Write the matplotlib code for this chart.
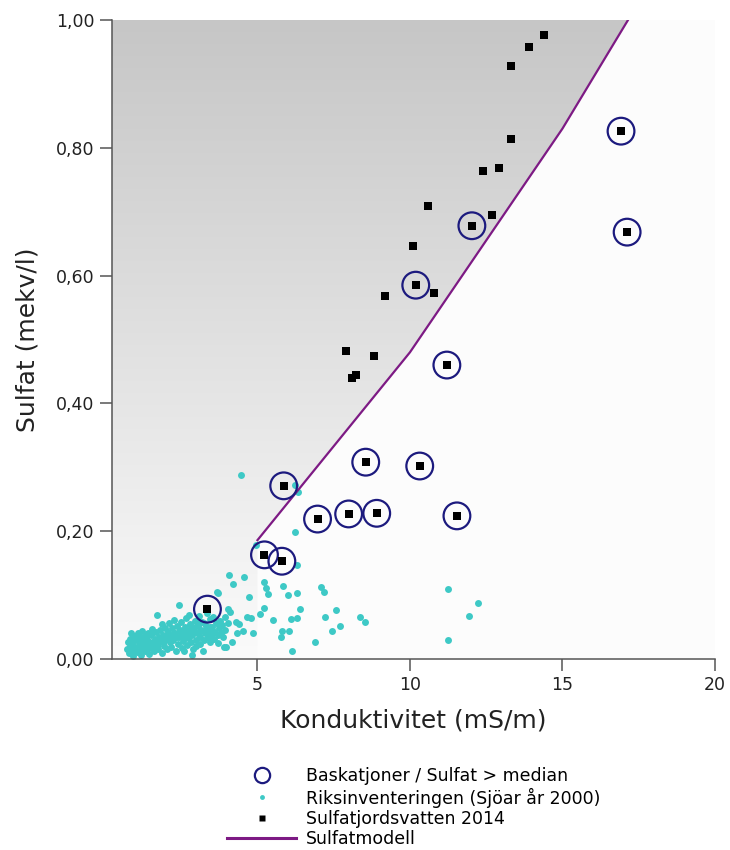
# -*- coding: utf-8 -*-
# Sulfat mot konduktivitet: sjöar, markvatten och sulfatmodell

import numpy as np
import matplotlib
matplotlib.use("Agg")
import matplotlib.pyplot as plt
from matplotlib.colors import LinearSegmentedColormap
from matplotlib.lines import Line2D
from matplotlib.patches import Polygon
from matplotlib.ticker import FuncFormatter


# =========================
# Data
# =========================
# Sulfatmodell (brytpunkter)
model_x = [5.0, 10.0, 15.0, 17.15]
model_y = [0.186, 0.48, 0.83, 1.0]

# Sulfatjordsvatten 2014
sulfat_x = [3.36, 5.23, 5.80, 5.86, 6.97, 7.99, 8.91, 8.55, 10.32, 11.54,
            11.21, 10.19, 12.03, 16.92, 17.12,
            7.89, 8.81, 8.10, 8.22, 9.18, 10.78, 10.09, 10.58, 12.68, 12.39,
            12.91, 13.31, 13.31, 13.90, 14.39]
sulfat_y = [0.078, 0.163, 0.153, 0.271, 0.219, 0.227, 0.228, 0.308, 0.302, 0.224,
            0.460, 0.585, 0.678, 0.826, 0.668,
            0.482, 0.474, 0.440, 0.444, 0.568, 0.573, 0.646, 0.709, 0.695, 0.764,
            0.768, 0.814, 0.928, 0.958, 0.977]
# Baskatjoner / Sulfat > median (ringas in)
over_median = [True] * 15 + [False] * 15

# Riksinventeringen (Sjöar år 2000)
riks_x = [0.72, 0.74, 0.78, 0.81, 0.83, 0.88, 0.90, 0.93, 0.97, 0.99,
          1.02, 1.06, 1.08, 1.11, 1.14, 1.17, 1.19, 1.23, 1.26, 1.28,
          1.31, 1.34, 1.37, 1.40, 1.43, 1.46, 1.48, 1.52, 1.55, 1.57,
          1.60, 1.63, 1.66, 1.69, 1.72, 1.74, 1.77, 1.80, 1.83, 1.86,
          1.88, 1.91, 1.94, 1.97, 2.00, 2.03, 2.06, 2.09, 2.12, 2.15,
          2.18, 2.21, 2.24, 2.27, 2.30, 2.33, 2.36, 2.39, 2.42, 2.44,
          2.47, 2.50, 2.53, 2.56, 2.59, 2.62, 2.65, 2.68, 2.71, 2.74,
          2.77, 2.80, 2.83, 2.86, 2.89, 2.92, 2.95, 2.98, 3.01, 3.04,
          3.07, 3.10, 3.13, 3.16, 3.19, 3.22, 3.25, 3.28, 3.31, 3.34,
          3.37, 3.40, 3.43, 3.46, 3.49, 3.52, 3.55, 3.58, 3.61, 3.64,
          3.67, 3.70, 3.73, 3.76, 3.80, 3.84, 3.88, 3.93, 3.97, 4.02,
          1.25, 1.45, 1.65, 1.85, 2.05, 2.25, 2.45, 2.65, 2.85, 3.05, 3.25, 3.45,
          1.35, 1.55, 1.75, 1.95, 2.15, 2.35, 2.55, 2.75, 2.95, 3.15, 3.35, 3.55,
          1.10, 1.00, 0.86, 2.60, 3.00, 3.70, 2.84,
          4.46, 6.24, 6.32, 6.22, 4.96, 6.30, 4.07, 4.21, 4.57, 5.23,
          5.29, 5.36, 5.84, 5.99, 6.30, 7.08, 7.19, 3.69, 4.72, 4.05,
          4.11, 3.94, 5.23, 5.07, 4.65, 4.79, 4.30, 4.38, 5.51, 6.40,
          6.11, 6.30, 7.22, 7.59, 8.35, 8.51, 7.72, 7.46, 4.32, 4.52,
          4.84, 5.80, 6.05, 5.78, 6.90, 6.13, 3.91, 4.16,
          11.24, 12.24, 11.93, 11.24]
riks_y = [0.016, 0.027, 0.009, 0.021, 0.032, 0.014, 0.025, 0.005, 0.036, 0.019,
          0.029, 0.011, 0.040, 0.022, 0.031, 0.007, 0.016, 0.044, 0.026, 0.035,
          0.012, 0.021, 0.030, 0.041, 0.017, 0.008, 0.027, 0.037, 0.047, 0.020,
          0.013, 0.031, 0.042, 0.024, 0.069, 0.016, 0.035, 0.046, 0.028, 0.054,
          0.010, 0.038, 0.021, 0.049, 0.031, 0.015, 0.043, 0.057, 0.026, 0.036,
          0.019, 0.048, 0.030, 0.061, 0.040, 0.012, 0.052, 0.024, 0.085, 0.034,
          0.045, 0.058, 0.018, 0.028, 0.039, 0.050, 0.064, 0.022, 0.033, 0.069,
          0.044, 0.055, 0.027, 0.037, 0.016, 0.048, 0.060, 0.030, 0.041, 0.052,
          0.067, 0.024, 0.035, 0.046, 0.058, 0.013, 0.029, 0.040, 0.051, 0.072,
          0.034, 0.045, 0.062, 0.026, 0.038, 0.050, 0.066, 0.031, 0.043, 0.056,
          0.105, 0.037, 0.048, 0.060, 0.041, 0.053, 0.035, 0.046, 0.019, 0.057,
          0.018, 0.024, 0.028, 0.033, 0.036, 0.040, 0.044, 0.046, 0.050, 0.054, 0.056, 0.050,
          0.038, 0.041, 0.023, 0.028, 0.031, 0.035, 0.036, 0.040, 0.042, 0.044, 0.047, 0.040,
          0.036, 0.012, 0.040, 0.012, 0.020, 0.025, 0.006,
          0.288, 0.272, 0.262, 0.198, 0.178, 0.147, 0.131, 0.117, 0.128, 0.121,
          0.111, 0.102, 0.114, 0.100, 0.104, 0.113, 0.105, 0.104, 0.097, 0.078,
          0.073, 0.065, 0.080, 0.071, 0.066, 0.064, 0.058, 0.055, 0.061, 0.078,
          0.062, 0.064, 0.066, 0.077, 0.066, 0.058, 0.052, 0.044, 0.041, 0.044,
          0.040, 0.044, 0.044, 0.035, 0.026, 0.013, 0.019, 0.027,
          0.109, 0.087, 0.068, 0.030]

x_ticks = [5, 10, 15, 20]
y_ticks = [0.0, 0.2, 0.4, 0.6, 0.8, 1.0]

X_MIN, X_MAX = 0.23, 20.0
Y_MIN, Y_MAX = 0.0, 1.0

TURQ = "#3ec9c6"
NAVY = "#1c1a7e"
PURPLE = "#7d1a84"
AXIS_GREY = "#555555"


# =========================
# Figur
# =========================
fig = plt.figure(figsize=(7.3, 8.5), dpi=100)
ax = fig.add_axes([0.1534, 0.2247, 0.826, 0.7518])
ax.set_facecolor("#fcfcfc")

# Grå gradient ovanför modellinjen
poly_pts = [(X_MIN, Y_MIN), (X_MIN, Y_MAX)] + \
           list(zip(model_x[::-1], model_y[::-1])) + [(model_x[0], Y_MIN)]
clip = Polygon(poly_pts, closed=True, transform=ax.transData,
               facecolor="none", edgecolor="none")
ax.add_patch(clip)
grad = np.linspace(0, 1, 256).reshape(-1, 1)
cmap = LinearSegmentedColormap.from_list("grey_fade", ["#fbfbfb", "#c6c6c6"])
img = ax.imshow(grad, extent=[X_MIN, X_MAX, Y_MIN, Y_MAX], origin="lower",
                aspect="auto", cmap=cmap, interpolation="bicubic", zorder=0)
img.set_clip_path(clip)

# Punkter och linje
ax.scatter(riks_x, riks_y, s=25, color=TURQ, linewidths=0, zorder=2)
ax.plot(model_x, model_y, color=PURPLE, lw=1.6, zorder=3)

circ_x = [x for x, m in zip(sulfat_x, over_median) if m]
circ_y = [y for y, m in zip(sulfat_y, over_median) if m]
ax.scatter(circ_x, circ_y, s=370, facecolors="none", edgecolors=NAVY,
           linewidths=1.6, zorder=4)
ax.scatter(sulfat_x, sulfat_y, s=40, marker="s", color="black",
           linewidths=0, zorder=5)

ax.set_xlim(X_MIN, X_MAX)
ax.set_ylim(Y_MIN, Y_MAX)

# Axlar
for side in ("top", "right"):
    ax.spines[side].set_visible(False)
for side in ("left", "bottom"):
    ax.spines[side].set_color(AXIS_GREY)
    ax.spines[side].set_linewidth(1.1)

ax.set_xticks(x_ticks)
ax.set_yticks(y_ticks)
ax.yaxis.set_major_formatter(FuncFormatter(lambda v, _: f"{v:.2f}".replace(".", ",")))
ax.tick_params(axis="both", direction="out", length=8.5, width=1.1,
               color=AXIS_GREY, labelsize=12.5, labelcolor="#222222", pad=4)

ax.set_xlabel("Konduktivitet (mS/m)", fontsize=18, color="#222222", labelpad=10)
ax.set_ylabel("Sulfat (mekv/l)", fontsize=18, color="#222222", labelpad=12)

# Legend under diagrammet
handles = [
    Line2D([], [], ls="none", marker="o", ms=11, mfc="none", mec=NAVY, mew=1.6),
    Line2D([], [], ls="none", marker="o", ms=3.5, mfc=TURQ, mec="none"),
    Line2D([], [], ls="none", marker="s", ms=4, mfc="black", mec="none"),
    Line2D([], [], color=PURPLE, lw=2.2),
]
labels = ["Baskatjoner / Sulfat > median",
          "Riksinventeringen (Sjöar år 2000)",
          "Sulfatjordsvatten 2014",
          "Sulfatmodell"]
fig.legend(handles, labels, loc="upper left", bbox_to_anchor=(227 / 730, 1 - 767 / 850),
           frameon=False, fontsize=12.5, handlelength=4.0, handletextpad=0.55,
           labelspacing=0.14, borderpad=0, borderaxespad=0)

fig.savefig("out.png", dpi=100)
plt.close(fig)
